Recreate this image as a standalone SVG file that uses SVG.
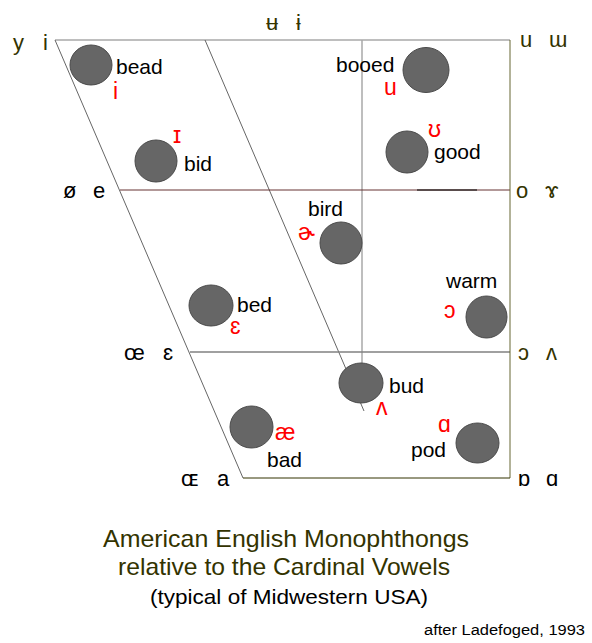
<svg xmlns="http://www.w3.org/2000/svg" width="592" height="643" viewBox="0 0 592 643">
<style>
text{font-family:"Liberation Sans","DejaVu Sans",Arial,sans-serif}
.w{font-size:21px;fill:#000}
.ipa{font-size:23px;fill:#ff0000}
.ax{font-size:22px;fill:#333300}
.axk{font-size:22px;fill:#000}
.dot{fill:#666666;stroke:#4a4a4a;stroke-width:1}
.ttl{font-size:24px;fill:#333300}
</style>
<rect width="592" height="643" fill="#ffffff"/>
<g id="grid" fill="none">
<line x1="55" y1="40" x2="510" y2="40" stroke="#a8a8a8" stroke-width="1.5"/>
<line x1="362" y1="40" x2="362" y2="383" stroke="#a8a8a8" stroke-width="1.5"/>
<line x1="55" y1="40" x2="243" y2="478" stroke="#666666" stroke-width="1"/>
<line x1="205" y1="40" x2="364" y2="411" stroke="#666666" stroke-width="1"/>
<line x1="120" y1="190" x2="510" y2="190" stroke="#663333" stroke-width="1"/>
<line x1="417" y1="190" x2="477" y2="190" stroke="#000000" stroke-width="1"/>
<line x1="190" y1="352" x2="510" y2="352" stroke="#808080" stroke-width="1.5"/>
<line x1="510" y1="40" x2="510" y2="478" stroke="#666633" stroke-width="1"/>
<line x1="243" y1="478" x2="510" y2="478" stroke="#333300" stroke-width="1"/>
</g>
<g id="axis-labels">
<text class="ax" x="13" y="50">y</text>
<text class="ax" x="43" y="50">i</text>
<text class="ax" x="266" y="30">ʉ</text>
<text class="ax" x="296" y="30">ɨ</text>
<text class="ax" x="520" y="47">u</text>
<text class="ax" x="549" y="47">ɯ</text>
<text class="axk" x="63" y="198">ø</text>
<text class="axk" x="93" y="198">e</text>
<text class="ax" x="516" y="198">o</text>
<text class="ax" x="545" y="198">ɤ</text>
<text class="axk" x="124" y="360">œ</text>
<text class="axk" x="163" y="360">ɛ</text>
<text class="ax" x="518" y="360">ɔ</text>
<text class="ax" x="546" y="360">ʌ</text>
<text class="axk" x="181" y="486">ɶ</text>
<text class="axk" x="217" y="486">a</text>
<text class="axk" x="518" y="486">ɒ</text>
<text class="axk" x="546" y="486">ɑ</text>
</g>
<g id="bead"><ellipse class="dot" cx="91" cy="65" rx="21" ry="20"/><text class="w" x="116" y="74">bead</text><text class="ipa" x="113" y="99">i</text></g>
<g id="bid"><ellipse class="dot" cx="156" cy="161" rx="21" ry="21"/><text class="w" x="184" y="171">bid</text><text class="ipa" x="173" y="143">ɪ</text></g>
<g id="booed"><ellipse class="dot" cx="426" cy="70" rx="23" ry="22.5"/><text class="w" x="336" y="72">booed</text><text class="ipa" x="384" y="95">u</text></g>
<g id="good"><ellipse class="dot" cx="407" cy="152" rx="21" ry="21"/><text class="w" x="434" y="159">good</text><text class="ipa" x="428" y="137">ʊ</text></g>
<g id="bird"><ellipse class="dot" cx="341" cy="243" rx="21" ry="21"/><text class="w" x="308" y="216">bird</text><text class="ipa" x="298" y="240">ɚ</text></g>
<g id="bed"><ellipse class="dot" cx="211" cy="305.5" rx="22" ry="20.5"/><text class="w" x="237" y="312">bed</text><text class="ipa" x="230" y="334">ɛ</text></g>
<g id="warm"><ellipse class="dot" cx="486.5" cy="317" rx="20.5" ry="21"/><text class="w" x="446" y="288">warm</text><text class="ipa" x="444" y="318">ɔ</text></g>
<g id="bud"><ellipse class="dot" cx="361" cy="383" rx="22" ry="20"/><text class="w" x="389" y="393">bud</text><text class="ipa" x="376" y="415">ʌ</text></g>
<g id="bad"><ellipse class="dot" cx="251.5" cy="427" rx="21.5" ry="21"/><text class="w" x="267" y="467">bad</text><text class="ipa" x="275" y="440">æ</text></g>
<g id="pod"><ellipse class="dot" cx="477.5" cy="443" rx="21.5" ry="20"/><text class="w" x="411" y="457">pod</text><text class="ipa" x="438" y="432">ɑ</text></g>
<g id="caption">
<text class="ttl" x="286" y="547" text-anchor="middle" textLength="366" lengthAdjust="spacingAndGlyphs">American English Monophthongs</text>
<text class="ttl" x="284" y="575" text-anchor="middle" textLength="332" lengthAdjust="spacingAndGlyphs">relative to the Cardinal Vowels</text>
<text x="289" y="604" text-anchor="middle" font-size="21" fill="#000" textLength="278" lengthAdjust="spacingAndGlyphs">(typical of Midwestern USA)</text>
<text x="424" y="635" font-size="14" fill="#000" textLength="161" lengthAdjust="spacingAndGlyphs">after Ladefoged, 1993</text>
</g>
</svg>
